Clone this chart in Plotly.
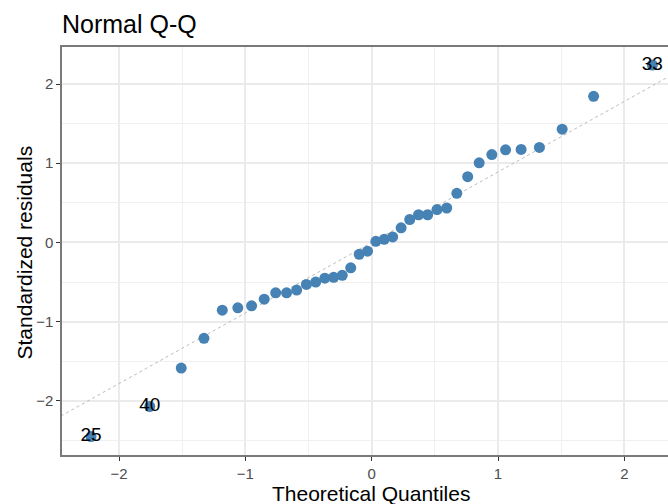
import plotly.graph_objects as go

# Data (n = 38 standardized residuals)
theoretical = [-2.222, -1.757, -1.508, -1.328, -1.183, -1.060, -0.951, -0.851,
               -0.760, -0.674, -0.594, -0.517, -0.443, -0.371, -0.301, -0.233,
               -0.166, -0.099, -0.033, 0.033, 0.099, 0.166, 0.233, 0.301,
               0.371, 0.443, 0.517, 0.594, 0.674, 0.760, 0.851, 0.951,
               1.060, 1.183, 1.328, 1.508, 1.757, 2.222]
residuals = [-2.45, -2.07, -1.585, -1.21, -0.855, -0.825, -0.80, -0.715,
             -0.635, -0.635, -0.60, -0.53, -0.50, -0.45, -0.44, -0.415,
             -0.32, -0.15, -0.11, 0.015, 0.04, 0.07, 0.185, 0.29,
             0.35, 0.35, 0.415, 0.435, 0.62, 0.83, 1.005, 1.11,
             1.17, 1.175, 1.20, 1.43, 1.845, 2.24]
point_labels = ["25", "40"] + [""] * 35 + ["33"]

line_slope = 0.89
line_intercept = 0.0
line_x = [-3.0, 3.0]
line_y = [line_intercept + line_slope * v for v in line_x]

x_ticks = [-2, -1, 0, 1, 2]
y_ticks = [-2, -1, 0, 1, 2]

FONT = "Liberation Sans, Arial, sans-serif"

fig = go.Figure()
fig.add_trace(go.Scatter(
    x=line_x, y=line_y, mode="lines",
    line=dict(color="#BBBBBB", width=1, dash="dot"),
    hoverinfo="skip", showlegend=False))
fig.add_trace(go.Scatter(
    x=theoretical, y=residuals, mode="markers",
    marker=dict(color="#4682B4", size=11, line=dict(width=0)),
    showlegend=False))
fig.add_trace(go.Scatter(
    x=theoretical, y=residuals, mode="text", text=point_labels,
    textposition="middle center", cliponaxis=False,
    textfont=dict(family=FONT, size=19, color="#000000"),
    showlegend=False, hoverinfo="skip"))

axis_common = dict(
    showgrid=True, gridcolor="#EBEBEB", gridwidth=1.5,
    minor=dict(showgrid=True, gridcolor="#F0F0F0", gridwidth=1, dtick=0.5,
               ticks=""),
    zeroline=False,
    showline=True, linecolor="#7A7A7A", linewidth=1.5,
    ticks="outside", ticklen=4, tickcolor="#333333", tickwidth=1,
    tickfont=dict(family=FONT, size=15, color="#4D4D4D"),
)

fig.update_layout(
    width=668, height=504,
    margin=dict(l=62, r=0, t=47, b=49),
    paper_bgcolor="white", plot_bgcolor="white",
    title=dict(text="Normal Q-Q", x=62 / 668, xanchor="left",
               xref="container", yref="container", y=1 - 24 / 504,
               yanchor="middle",
               font=dict(family=FONT, size=25, color="#000000")),
    xaxis=dict(range=[-2.452, 2.346], tickvals=x_ticks, mirror=True,
               **axis_common),
    yaxis=dict(range=[-2.682, 2.467], tickvals=y_ticks, mirror=False,
               **axis_common),
    annotations=[
        dict(text="Theoretical Quantiles", xref="paper", yref="paper",
             x=(370.5 - 62) / 606, y=-(493 - 455) / 408, xanchor="center",
             yanchor="middle", showarrow=False,
             font=dict(family=FONT, size=21, color="#000000")),
        dict(text="Standardized residuals", xref="paper", yref="paper",
             x=(24 - 62) / 606, y=(455 - 252.5) / 408, xanchor="center",
             yanchor="middle", showarrow=False, textangle=-90,
             font=dict(family=FONT, size=21, color="#000000")),
    ],
)

fig.write_html("out.html",
               config={"displayModeBar": False},
               post_script="document.body.style.margin='0';"
                           "document.body.style.overflow='hidden';")
